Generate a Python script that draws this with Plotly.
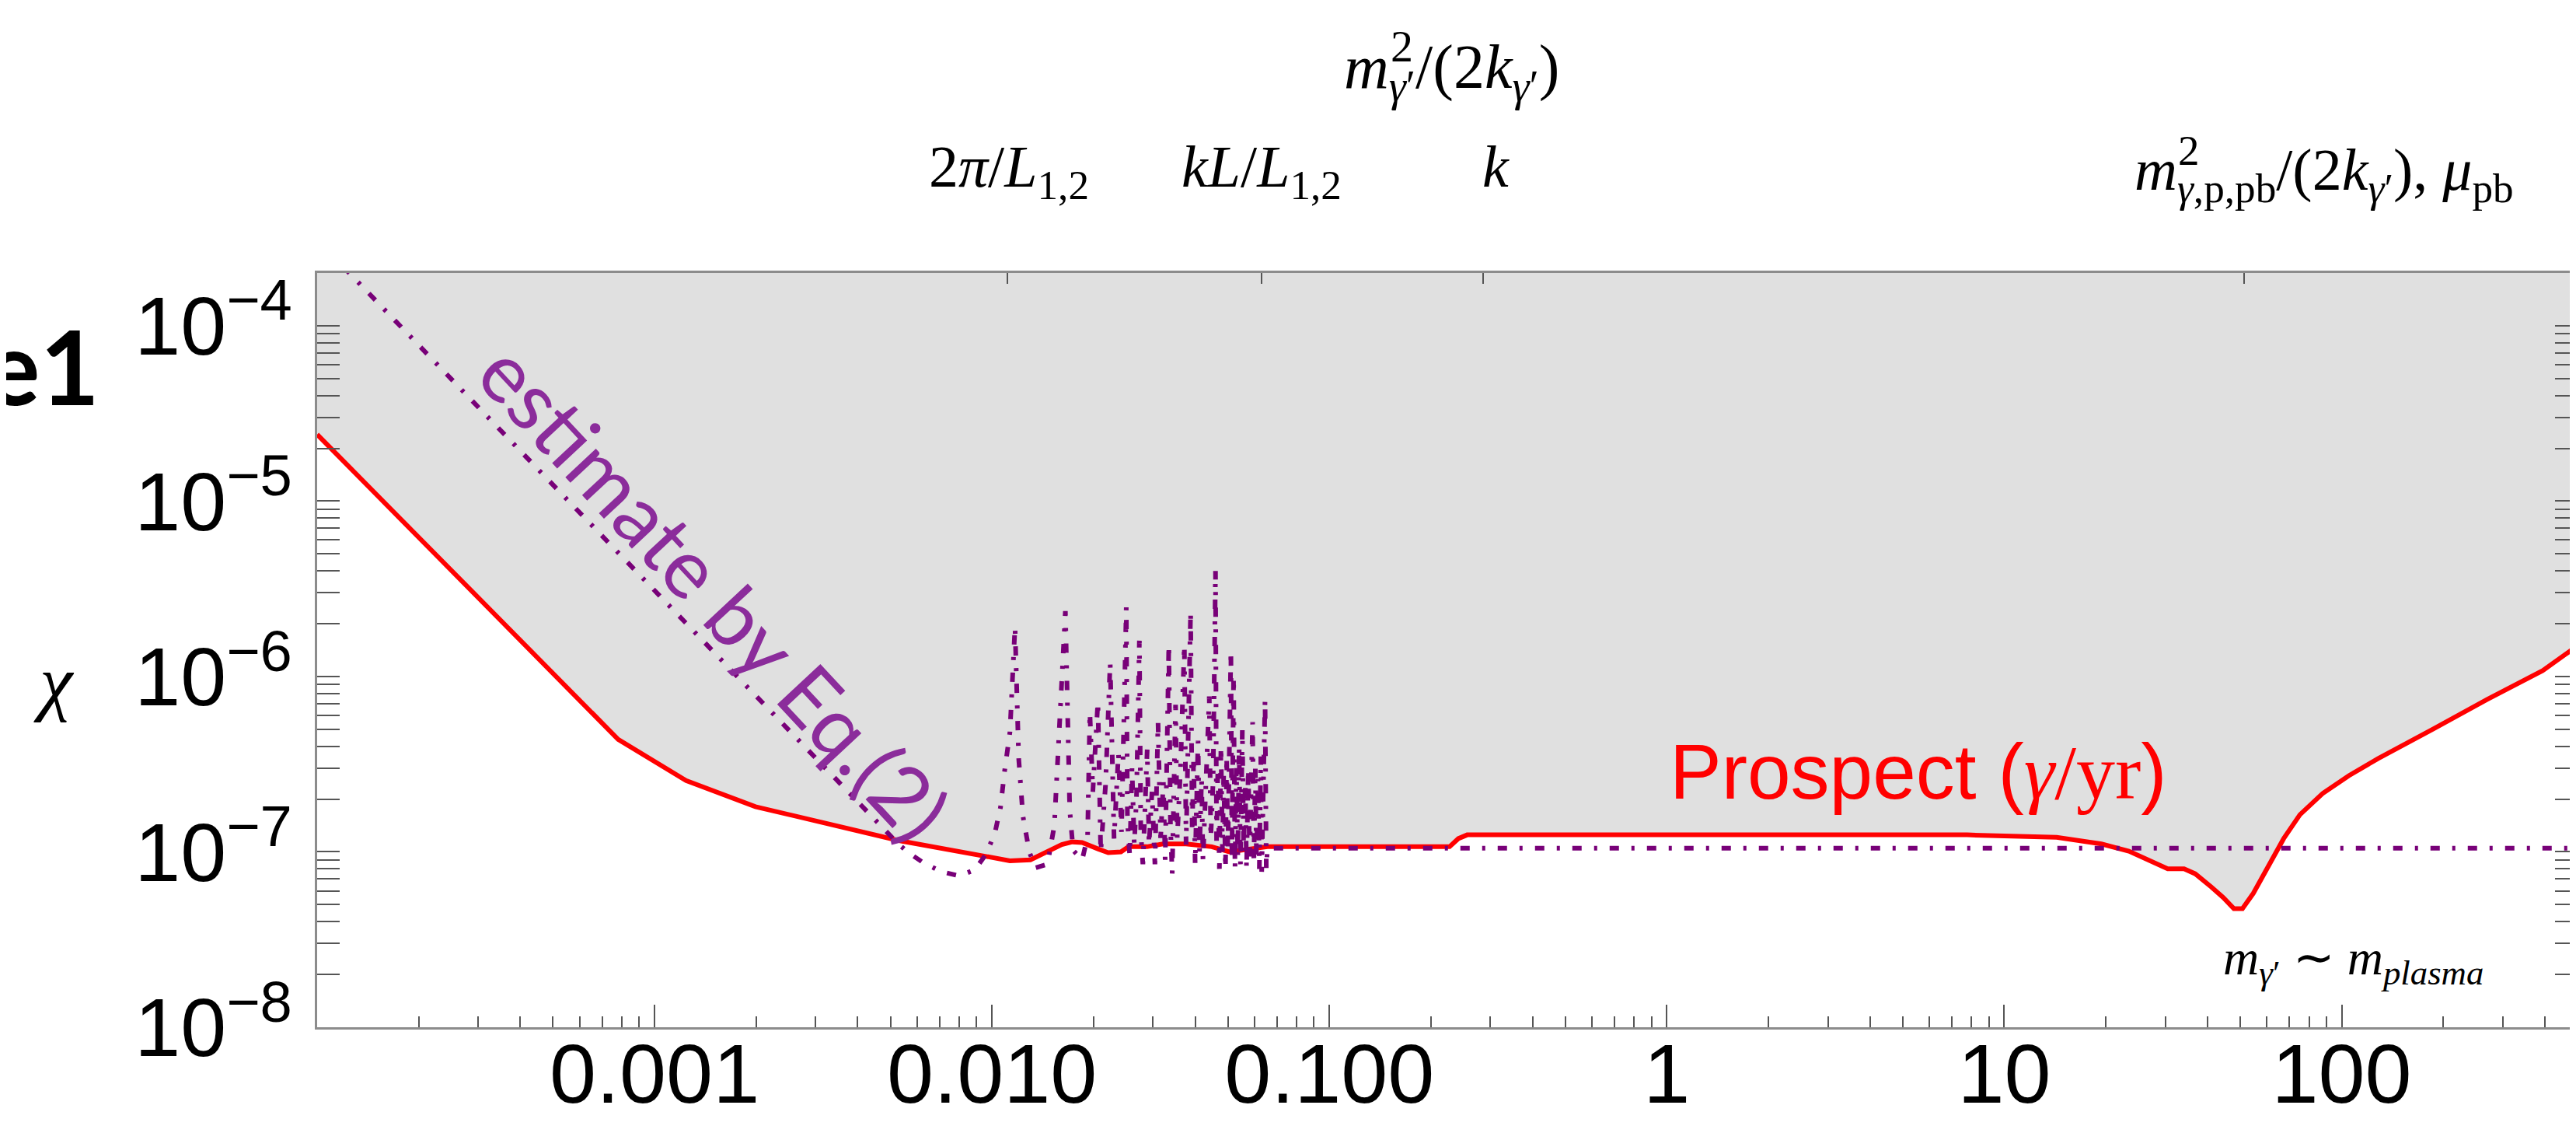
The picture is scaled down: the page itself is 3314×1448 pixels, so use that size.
import plotly.graph_objects as go
import math

# ---------------- data ----------------
# Red "Prospect" curve: dark photon mass m (x) vs mixing chi (y)
red_m = [1.0e-4, 7.8e-4, 1.24e-3, 1.99e-3, 5.3e-3, 9.14e-3, 1.13e-2, 1.30e-2, 1.45e-2,
         1.61e-2, 1.73e-2, 1.85e-2, 2.06e-2, 2.21e-2, 2.41e-2, 2.54e-2, 2.88e-2, 3.21e-2,
         3.76e-2, 4.48e-2, 5.05e-2, 5.83e-2, 6.55e-2, 0.227, 0.241, 0.256, 1.40, 7.76,
         14.3, 19.4, 23.4, 27.2, 30.5, 34.1, 36.8, 41.1, 44.5, 47.9, 50.8, 54.7, 59.8,
         67.3, 75.2, 87.7, 105, 128, 186, 270, 394, 498]
red_chi = [2.4e-5, 4.38e-7, 2.55e-7, 1.81e-7, 1.16e-7, 9.5e-8, 8.9e-8, 9.0e-8, 9.9e-8,
           1.10e-7, 1.14e-7, 1.13e-7, 1.04e-7, 9.9e-8, 1.0e-7, 1.07e-7, 1.07e-7, 1.11e-7,
           1.11e-7, 1.07e-7, 1.0e-7, 1.04e-7, 1.07e-7, 1.07e-7, 1.19e-7, 1.25e-7, 1.25e-7, 1.25e-7,
           1.21e-7, 1.11e-7, 1.01e-7, 8.9e-8, 8.0e-8, 8.0e-8, 7.5e-8, 6.3e-8, 5.5e-8, 4.75e-8,
           4.75e-8, 5.8e-8, 7.9e-8, 1.19e-7, 1.63e-7, 2.15e-7, 2.72e-7, 3.4e-7, 5.0e-7,
           7.4e-7, 1.08e-6, 1.49e-6]

# Purple "estimate by Eq.(2)" curve
est_m = [1.0e-4, 1.0e-3, 3.0e-3, 5.3e-3, 5.7e-3, 6.3e-3, 7.1e-3, 8.0e-3, 8.9e-3, 9.6e-3,
         1.02e-2, 1.06e-2, 1.09e-2, 1.13e-2, 1.17e-2, 1.20e-2, 1.235e-2, 1.29e-2, 1.345e-2,
         1.46e-2, 1.53e-2, 1.57e-2, 1.65e-2, 1.70e-2, 1.74e-2, 1.85e-2, 1.92e-2, 1.95e-2,
         1.99e-2, 2.06e-2, 2.10e-2, 2.17e-2, 2.24e-2, 2.30e-2, 2.37e-2, 2.42e-2, 2.50e-2,
         2.52e-2, 2.56e-2, 2.60e-2, 2.64e-2, 2.68e-2, 2.734e-2, 2.76e-2, 2.80e-2, 2.884e-2,
         2.92e-2, 2.98e-2, 3.04e-2, 3.105e-2, 3.16e-2, 3.22e-2, 3.26e-2, 3.342e-2, 3.38e-2,
         3.42e-2, 3.50e-2, 3.54e-2, 3.62e-2, 3.716e-2, 3.76e-2, 3.878e-2, 3.92e-2, 3.96e-2,
         4.00e-2, 4.08e-2, 4.12e-2, 4.18e-2, 4.22e-2, 4.405e-2, 4.45e-2, 4.52e-2, 4.596e-2,
         4.63e-2, 4.67e-2, 4.72e-2, 4.77e-2, 4.82e-2, 4.86e-2, 4.92e-2, 4.96e-2, 5.00e-2,
         5.105e-2, 5.14e-2, 5.20e-2, 5.25e-2, 5.30e-2, 5.35e-2, 5.40e-2, 5.45e-2, 5.52e-2,
         5.57e-2, 5.63e-2, 5.68e-2, 5.75e-2, 5.80e-2, 5.92e-2, 5.97e-2, 6.03e-2, 6.08e-2,
         6.14e-2, 6.20e-2, 6.26e-2, 6.30e-2, 6.445e-2, 6.50e-2, 6.55e-2, 500]
est_chi = [3.1e-4, 3.1e-6, 3.45e-7, 1.1e-7, 9.8e-8, 8.6e-8, 7.7e-8, 7.3e-8, 7.9e-8, 9.7e-8,
           1.28e-7, 1.8e-7, 2.9e-7, 4.8e-7, 1.92e-6, 3.4e-7, 1.6e-7, 1.0e-7, 8.1e-8,
           8.5e-8, 1.41e-7, 3.4e-7, 2.36e-6, 1.73e-7, 1.02e-7, 9.0e-8, 1.22e-7, 6.25e-7,
           2.2e-7, 7.2e-7, 1.0e-7, 2.4e-7, 1.2e-6, 1.19e-7, 3.65e-7, 1.3e-7, 2.48e-6,
           1.5e-7, 9.5e-8, 3.0e-7, 1.1e-7, 2.0e-7, 1.60e-6, 1.3e-7, 8.5e-8, 3.84e-7,
           1.1e-7, 2.2e-7, 8.5e-8, 5.5e-7, 1.2e-7, 2.5e-7, 9.0e-8, 1.52e-6, 1.4e-7,
           7.5e-8, 6.9e-7, 1.2e-7, 3.0e-7, 1.52e-6, 1.1e-7, 2.35e-6, 1.3e-7, 3.5e-7,
           8.5e-8, 4.3e-7, 1.0e-7, 2.6e-7, 9.0e-8, 7.7e-7, 1.2e-7, 2.5e-7, 4.0e-6,
           1.1e-7, 3.0e-7, 8.0e-8, 4.0e-7, 1.0e-7, 2.8e-7, 8.0e-8, 3.5e-7, 1.0e-7,
           1.41e-6, 9.0e-8, 1.0e-6, 8.0e-8, 3.0e-7, 9.5e-8, 4.0e-7, 8.5e-8, 5.0e-7,
           1.0e-7, 2.5e-7, 8.0e-8, 3.0e-7, 9.0e-8, 5.5e-7, 8.5e-8, 3.0e-7, 9.0e-8,
           2.6e-7, 8.0e-8, 3.5e-7, 7.7e-8, 7.4e-7, 8.0e-8, 1.05e-7, 1.05e-7]

# axis extents and ticks
x_range = [1.0e-4, 500]
y_range = [1.0e-8, 2.0e-4]
x_tickvals = [0.001, 0.01, 0.1, 1, 10, 100]
x_ticktext = ["0.001", "0.010", "0.100", "1", "10", "100"]
y_tickvals = [1e-8, 1e-7, 1e-6, 1e-5, 1e-4]
y_ticktext = ["10<sup>\u22128</sup>", "10<sup>\u22127</sup>", "10<sup>\u22126</sup>",
              "10<sup>\u22125</sup>", "10<sup>\u22124</sup>"]
top_tick_vals = [0.0111, 0.0628, 0.286, 51.4]

# ---------------- figure ----------------
W, H = 3314, 1448
ML, MR, MT, MB = 400, 6, 343, 135
PW, PH = W - ML - MR, H - MT - MB

def px(xp):   # figure pixel -> paper x
    return (xp - ML) / PW

def py(yp):   # figure pixel -> paper y
    return (H - MB - yp) / PH

x_minor = [k * 10 ** e for e in range(-4, 3) for k in range(2, 10) if k * 10 ** e < x_range[1]]
y_minor = [k * 10 ** e for e in range(-8, -3) for k in range(2, 10) if k * 10 ** e < y_range[1]]

PURPLE = "#780078"
GRAY_FILL = "#e0e0e0"
FRAME = "#8c8c8c"
TICKC = "#555555"
SERIF = "Liberation Serif"
SANS = "Liberation Sans"

fig = go.Figure()

# top boundary for the shaded (excluded) region
fig.add_trace(go.Scatter(x=red_m, y=[y_range[1] * 10] * len(red_m), mode="lines",
                         line=dict(width=0, color=GRAY_FILL), hoverinfo="skip", showlegend=False))
fig.add_trace(go.Scatter(x=red_m, y=red_chi, mode="lines", fill="tonexty", fillcolor=GRAY_FILL,
                         line=dict(color="#ff0000", width=6), showlegend=False))
fig.add_trace(go.Scatter(x=est_m, y=est_chi, mode="lines",
                         line=dict(color=PURPLE, width=6, dash="12px,16px,4px,16px"),
                         showlegend=False))
# carrier for top axis ticks
fig.add_trace(go.Scatter(x=top_tick_vals, y=[y_range[0]] * len(top_tick_vals), xaxis="x2",
                         mode="markers", marker=dict(opacity=0), hoverinfo="skip", showlegend=False))

fig.update_layout(
    width=W, height=H,
    margin=dict(l=ML, r=MR, t=MT, b=MB),
    paper_bgcolor="white", plot_bgcolor="white",
    showlegend=False,
    xaxis=dict(type="log", range=[math.log10(x_range[0]), math.log10(x_range[1])],
               tickmode="array", tickvals=x_tickvals, ticktext=x_ticktext,
               ticks="inside", ticklen=29, tickwidth=2, tickcolor=TICKC,
               minor=dict(tickmode="array", tickvals=x_minor, ticks="inside", ticklen=14,
                          tickwidth=2, tickcolor=TICKC, showgrid=False),
               showgrid=False, zeroline=False, showline=True, linecolor=FRAME, linewidth=3,
               mirror=True, tickfont=dict(family=SANS, size=108, color="black"),
               ticklabelstandoff=-36, automargin=False),
    xaxis2=dict(type="log", overlaying="x", side="top",
                range=[math.log10(x_range[0]), math.log10(x_range[1])],
                tickmode="array", tickvals=top_tick_vals, showticklabels=False,
                ticks="inside", ticklen=14, tickwidth=2, tickcolor=TICKC,
                showgrid=False, zeroline=False, showline=False, automargin=False),
    yaxis=dict(type="log", range=[math.log10(y_range[0]), math.log10(y_range[1])],
               tickmode="array", tickvals=y_tickvals, ticktext=y_ticktext,
               ticks="inside", ticklen=29, tickwidth=2, tickcolor=TICKC,
               minor=dict(tickmode="array", tickvals=y_minor, ticks="inside", ticklen=16,
                          tickwidth=2, tickcolor=TICKC, showgrid=False),
               showgrid=False, zeroline=False, showline=True, linecolor=FRAME, linewidth=3,
               mirror="allticks", tickfont=dict(family=SANS, size=106, color="black"),
               ticklabelstandoff=8, automargin=False),
)

ann = []
# y-axis label
ann.append(dict(text="<i>χ</i>", x=px(61), y=py(868), xref="paper", yref="paper",
                xanchor="center", yanchor="middle", showarrow=False,
                font=dict(family=SERIF, size=96, color="black")))
# truncated panel label
ann.append(dict(text="<b>e1</b>", x=px(122), y=py(462), xref="paper", yref="paper",
                xanchor="right", yanchor="middle", showarrow=False,
                font=dict(family="Lato", size=132, color="black")))
# top labels (superscript 2 stacked above the subscript, as in the reference)
ann.append(dict(text="<i>m</i><sub><i>γ</i>′</sub>/(2<i>k</i><sub><i>γ</i>′</sub>)",
                x=px(1719), y=py(84), xref="paper", yref="paper", xanchor="left",
                yanchor="middle", showarrow=False, font=dict(family=SERIF, size=80, color="black")))
ann.append(dict(text="2", x=px(1779), y=py(52), xref="paper", yref="paper", xanchor="left",
                yanchor="middle", showarrow=False, font=dict(family=SERIF, size=58, color="black")))
ann.append(dict(text="2<i>π</i>/<i>L</i><sub>1,2</sub>", x=px(1290), y=py(212), xref="paper",
                yref="paper", xanchor="center", yanchor="middle", showarrow=False,
                font=dict(family=SERIF, size=76, color="black")))
ann.append(dict(text="<i>kL</i>/<i>L</i><sub>1,2</sub>", x=px(1615), y=py(212), xref="paper",
                yref="paper", xanchor="center", yanchor="middle", showarrow=False,
                font=dict(family=SERIF, size=76, color="black")))
ann.append(dict(text="<i>k</i>", x=px(1916), y=py(206), xref="paper",
                yref="paper", xanchor="center", yanchor="middle", showarrow=False,
                font=dict(family=SERIF, size=76, color="black")))
ann.append(dict(text="<i>m</i><sub><i>γ</i>,p,pb</sub>/(2<i>k</i><sub><i>γ</i>′</sub>), <i>μ</i><sub>pb</sub>",
                x=px(2736), y=py(216), xref="paper", yref="paper", xanchor="left",
                yanchor="middle", showarrow=False, font=dict(family=SERIF, size=76, color="black")))
ann.append(dict(text="2", x=px(2792), y=py(186), xref="paper", yref="paper", xanchor="left",
                yanchor="middle", showarrow=False, font=dict(family=SERIF, size=55, color="black")))
# curve labels
ann.append(dict(text="Prospect (<span style='font-family:Liberation Serif'><i>γ</i>/yr</span>)",
                x=px(2460), y=py(984), xref="paper", yref="paper", xanchor="center",
                yanchor="middle", showarrow=False, font=dict(family=SANS, size=100, color="#ff0000")))
ann.append(dict(text="estimate by Eq.(2)", x=px(912), y=py(752), xref="paper", yref="paper",
                xanchor="center", yanchor="middle", textangle=47, showarrow=False,
                font=dict(family="Lato", size=106, color="#8b2c9b")))
ann.append(dict(text="<i>m</i><sub><i>γ</i>′</sub> ∼ <i>m</i><sub><i>plasma</i></sub>",
                x=px(3019), y=py(1228), xref="paper", yref="paper", xanchor="center",
                yanchor="middle", showarrow=False, font=dict(family=SERIF, size=64, color="black")))
fig.update_layout(annotations=ann)

fig.write_html("out.html")
